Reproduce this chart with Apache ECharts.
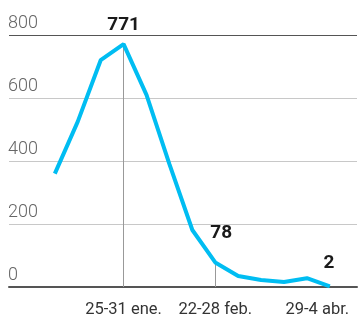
<!DOCTYPE html>
<html>
<head>
<meta charset="utf-8">
<script src="https://cdn.jsdelivr.net/npm/echarts@6/dist/echarts.min.js"></script>
<style>html,body{margin:0;padding:0;background:#fff}#c{width:359px;height:318px}</style>
</head>
<body>
<div id="c"></div>
<script>
var categories = ['4-10 ene.','11-17 ene.','18-24 ene.','25-31 ene.','1-7 feb.','8-14 feb.','15-21 feb.','22-28 feb.','1-7 mar.','8-14 mar.','15-21 mar.','22-28 mar.','29-4 abr.'];
var values = [360, 525, 720, 771, 610, 390, 181, 78, 35, 22, 16, 28, 2];
var yTicks = [0, 200, 400, 600, 800];
var labeledIdx = [3, 7, 12];
var valueLabelIdx = [3, 7, 12];

var labelOffsets = {3: {dist: 9, dx: 0}, 7: {dist: 19, dx: 6}, 12: {dist: 13, dx: -1}};

var lineData = values.map(function (v, i) { return [i, v]; });

var labelData = valueLabelIdx.map(function (i) {
  var o = labelOffsets[i];
  return {value: [i, values[i]],
    label: {show: true, position: 'top', distance: o.dist, offset: [o.dx, 0]}};
});

var dropLines = [3, 7].map(function (i) {
  return [{coord: [i, values[i]]}, {coord: [i, 0]}];
});

var chart = echarts.init(document.getElementById('c'), null, {renderer: 'canvas'});
chart.setOption({
  animation: false,
  grid: {left: 9, right: 2, top: 35, bottom: 31, containLabel: false, outerBoundsMode: 'none'},
  xAxis: {
    type: 'value', min: -2, max: 13.185, interval: 1,
    splitLine: {show: false}, axisTick: {show: false},
    axisLine: {show: true, lineStyle: {color: '#555', width: 2}},
    axisLabel: {
      show: true, margin: 14, fontFamily: 'Roboto', fontSize: 16.5, color: '#333',
      showMinLabel: false, showMaxLabel: false,
      formatter: function (v) {
        var i = Math.round(v);
        if (Math.abs(v - i) > 1e-6 || labeledIdx.indexOf(i) < 0) return '';
        if (i === categories.length - 1) return '{a|' + categories[i] + '}{b|}';
        return categories[i];
      },
      rich: {a: {fontFamily: 'Roboto', fontSize: 16.5, color: '#333'}, b: {width: 25}}
    }
  },
  yAxis: {
    type: 'value', min: yTicks[0], max: yTicks[yTicks.length - 1], interval: 200,
    axisLine: {show: false}, axisTick: {show: false},
    splitLine: {show: true, lineStyle: {color: ['#555', '#c8c8c8', '#c8c8c8', '#c8c8c8', '#555'], width: 1}},
    axisLabel: {inside: true, margin: -1, verticalAlign: 'bottom', padding: [0, 0, 3, 0],
      fontFamily: 'Roboto', fontWeight: 300, fontSize: 18, color: '#666'}
  },
  series: [{
    type: 'line', data: lineData, symbol: 'none', z: 3,
    lineStyle: {color: '#00bdf2', width: 4},
    itemStyle: {color: '#00bdf2'},
    markLine: {silent: true, symbol: 'none', label: {show: false},
      lineStyle: {color: '#999', width: 1, type: 'solid'}, data: dropLines, z: 1}
  }, {
    type: 'scatter', data: labelData, symbol: 'circle', symbolSize: 1, z: 4, silent: true,
    itemStyle: {color: 'rgba(0,0,0,0)', opacity: 1},
    label: {show: true, formatter: function (p) { return String(p.value[1]); },
      fontFamily: 'Roboto', fontWeight: 'bold', fontSize: 19, color: '#1a1a1a'}
  }]
});
</script>
</body>
</html>
